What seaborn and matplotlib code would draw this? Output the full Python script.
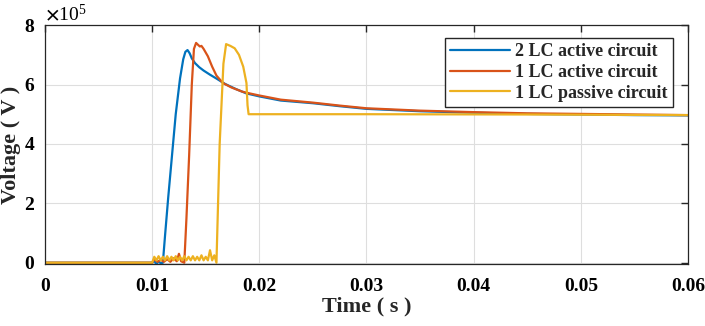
import numpy as np
import pandas as pd
import matplotlib
matplotlib.use("Agg")
import matplotlib.pyplot as plt
from matplotlib.ticker import ScalarFormatter
import seaborn as sns

# data (voltage in units of 1e5 V)
circuits = ['2 LC active circuit', '1 LC active circuit', '1 LC passive circuit']
colors = ['#0072BD', '#D95319', '#EDB120']

t_2lc_act = [0, 0.0100, 0.0102, 0.0104, 0.0106, 0.0108, 0.0110, 0.0112, 0.0115, 0.0118,
             0.0122, 0.0126, 0.0129, 0.0131, 0.0133, 0.0135, 0.0137, 0.0140, 0.0144,
             0.0148, 0.0154, 0.0160, 0.0168, 0.0178, 0.0188, 0.020, 0.022, 0.025,
             0.0275, 0.030, 0.035, 0.040, 0.045, 0.050, 0.055, 0.060]
v_2lc_act = [0, 0, 0.06, -0.05, 0.05, -0.02, 0.0, 0.9, 2.2, 3.4,
             5.0, 6.2, 6.85, 7.1, 7.16, 7.05, 6.88, 6.72, 6.58,
             6.47, 6.33, 6.2, 6.02, 5.85, 5.7, 5.6, 5.46, 5.37,
             5.27, 5.18, 5.1, 5.05, 5.01, 4.99, 4.97, 4.96]

t_1lc_act = [0, 0.0100, 0.0102, 0.0105, 0.0108, 0.0111, 0.0114, 0.0117, 0.0120, 0.0123,
             0.0125, 0.0127, 0.0130, 0.0132, 0.01345, 0.0137, 0.0139, 0.0141, 0.0143,
             0.01445, 0.0146, 0.0148, 0.0152, 0.0156, 0.0160, 0.0166, 0.0174, 0.0184,
             0.0191, 0.020, 0.022, 0.025, 0.0275, 0.030, 0.035, 0.040, 0.045,
             0.050, 0.055, 0.060]
v_1lc_act = [0, 0.0, 0.12, 0.03, 0.1, 0.03, 0.12, 0.03, 0.15, 0.05,
             0.3, 0.05, 0.0, 1.5, 3.6, 6.0, 7.2, 7.4, 7.33,
             7.28, 7.3, 7.2, 6.95, 6.6, 6.3, 6.05, 5.9, 5.76,
             5.7, 5.63, 5.49, 5.39, 5.29, 5.2, 5.12, 5.07, 5.03,
             5.01, 4.99, 4.97]

t_1lc_pas = [0, 0.0100, 0.0102, 0.0104, 0.0106, 0.0108, 0.0110, 0.0112, 0.0114, 0.0116,
             0.0118, 0.0120, 0.0122, 0.0124, 0.0126, 0.0128, 0.0130, 0.0132, 0.0134,
             0.0136, 0.0138, 0.0140, 0.0142, 0.0144, 0.0146, 0.0148, 0.0150, 0.0152,
             0.0154, 0.0156, 0.0158, 0.0160, 0.0163, 0.01665, 0.0169, 0.0173, 0.0177,
             0.0181, 0.0185, 0.0188, 0.0189, 0.0190, 0.030, 0.045, 0.060]
v_1lc_pas = [0, 0.0, 0.2, 0.08, 0.22, 0.08, 0.2, 0.08, 0.22, 0.08,
             0.2, 0.08, 0.22, 0.08, 0.2, 0.08, 0.22, 0.08, 0.2,
             0.08, 0.22, 0.08, 0.2, 0.08, 0.25, 0.08, 0.2, 0.08,
             0.42, 0.08, 0.25, 0.0, 4.0, 6.7, 7.36, 7.3, 7.22,
             7.0, 6.6, 6.05, 5.3, 5.0, 5.0, 4.99, 4.97]

frames = []
for name, t, v in [(circuits[0], t_2lc_act, v_2lc_act),
                   (circuits[1], t_1lc_act, v_1lc_act),
                   (circuits[2], t_1lc_pas, v_1lc_pas)]:
    frames.append(pd.DataFrame({'time': t, 'voltage': np.array(v) * 1e5, 'circuit': name}))
df = pd.concat(frames, ignore_index=True)

sns.set_style('white')
plt.rcParams['font.family'] = ['Liberation Serif', 'DejaVu Serif']
plt.rcParams['font.weight'] = 'bold'
plt.rcParams['mathtext.fontset'] = 'stix'

fig, ax = plt.subplots(figsize=(7.05, 3.26), dpi=100)
fig.subplots_adjust(left=0.0638, right=0.9759, bottom=0.190, top=0.923)

sns.lineplot(data=df, x='time', y='voltage', hue='circuit', hue_order=circuits,
             palette=colors, estimator=None, sort=False, linewidth=1.6, ax=ax)

ax.set_xlim(0, 0.06)
ax.set_ylim(-0.045e5, 8e5)
ax.set_xticks([0, 0.01, 0.02, 0.03, 0.04, 0.05, 0.06])
ax.set_xticklabels(['0', '0.01', '0.02', '0.03', '0.04', '0.05', '0.06'])
ax.set_yticks([0, 2e5, 4e5, 6e5, 8e5])
fmt = ScalarFormatter(useMathText=True)
fmt.set_powerlimits((5, 5))
ax.yaxis.set_major_formatter(fmt)
ax.yaxis.get_offset_text().set_fontsize(14)
ax.yaxis.get_offset_text().set_fontweight('normal')

ax.grid(True, color='#dedede', linewidth=0.8)
ax.tick_params(direction='in', top=True, right=True, length=5, width=1,
               labelsize=14, colors='#262626', labelcolor='black')
ax.tick_params(axis='x', pad=10)
ax.tick_params(axis='y', pad=7)
for lbl in ax.get_xticklabels() + ax.get_yticklabels():
    lbl.set_fontweight('bold')
for s in ax.spines.values():
    s.set_color('#262626')
    s.set_linewidth(0.9)

ax.set_xlabel('Time ( s )', fontsize=16, fontweight='bold', labelpad=1)
ax.set_ylabel('Voltage ( V )', fontsize=16, fontweight='bold')
ax.yaxis.set_label_coords(-0.037, 0.5)

leg = ax.legend(loc='upper right', bbox_to_anchor=(0.977, 0.946), fontsize=13,
                frameon=True, fancybox=False, edgecolor='#262626', framealpha=1,
                handlelength=3.3, handletextpad=0.3, borderpad=0.3, labelspacing=0.2,
                borderaxespad=0)
leg.get_frame().set_linewidth(1.0)
for txt in leg.get_texts():
    txt.set_fontweight('bold')

fig.savefig('out.png', dpi=100)
